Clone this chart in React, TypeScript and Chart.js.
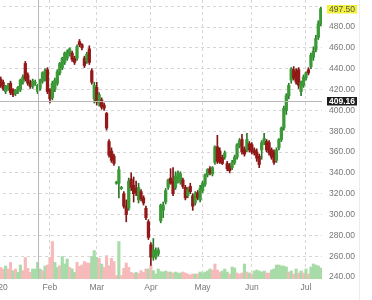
import React, { useEffect, useRef } from 'react';
import { Chart, registerables } from 'chart.js';

Chart.register(...registerables);

// ---- data ----
const monthLabels = ['2020', 'Feb', 'Mar', 'Apr', 'May', 'Jun', 'Jul'];
const tradingDaysPerMonth = [21, 19, 22, 21, 20, 22, 7];

const opens = [
  431, 430, 427, 418, 421, 426, 420, 416, 418, 420, 427, 445, 434, 427, 423, 426, 418, 421, 428, 430, 439,
  420, 412, 420, 426, 436, 441, 446, 450, 454, 455, 450, 450, 466, 463, 450, 447, 459, 438, 411,
  422, 407, 410, 405, 397, 370, 361, 356, 330, 330, 325, 320, 308, 306, 334, 328, 325, 314, 322, 316, 306, 293,
  271, 259, 259, 262, 294, 304, 312, 326, 335, 332, 326, 334, 331, 333, 326, 318, 327, 318, 311, 321, 314,
  323, 329, 338, 344, 339, 350, 365, 361, 355, 355, 349, 347, 345, 350, 355, 366, 372, 363, 362, 368,
  367, 362, 360, 356, 362, 369, 370, 369, 362, 360, 352, 364, 372, 383, 400, 414, 429, 439, 437, 439, 418, 424,
  431, 439, 442, 451, 458, 470, 483,
];
const highs = [
  433, 432, 429, 424, 426, 428, 421, 420, 423, 430, 434, 447, 436, 429, 430, 429, 425, 430, 437, 440, 441,
  421, 428, 431, 439, 446, 451, 456, 458, 460, 457, 452, 463, 468, 464, 452, 456, 462, 440, 427,
  427, 417, 412, 407, 398, 372, 364, 358, 332, 346, 327, 322, 314, 335, 340, 336, 332, 330, 324, 318, 308, 295,
  273, 277, 268, 268, 310, 312, 325, 334, 344, 345, 341, 342, 341, 335, 328, 326, 330, 320, 322, 323, 328,
  332, 339, 344, 346, 346, 366, 376, 364, 357, 361, 351, 349, 352, 357, 368, 373, 377, 365, 378, 370,
  369, 364, 363, 358, 371, 378, 372, 371, 364, 362, 364, 373, 384, 404, 416, 426, 441, 442, 440, 441, 428, 434,
  437, 441, 455, 461, 472, 486, 499,
];
const lows = [
  423, 422, 419, 416, 419, 415, 413, 414, 416, 418, 425, 428, 424, 421, 421, 424, 416, 419, 426, 428, 416,
  407, 410, 418, 424, 434, 439, 444, 448, 452, 447, 444, 448, 461, 458, 441, 445, 444, 425, 407,
  405, 404, 401, 400, 381, 355, 350, 347, 329, 316, 324, 306, 293, 304, 323, 312, 318, 311, 313, 309, 295, 276,
  251, 256, 257, 260, 292, 297, 310, 324, 329, 318, 324, 330, 329, 325, 314, 316, 320, 304, 309, 314, 312,
  321, 327, 336, 338, 337, 348, 349, 349, 348, 353, 342, 340, 343, 348, 353, 364, 358, 356, 360, 360,
  358, 357, 351, 345, 353, 367, 360, 357, 353, 348, 350, 362, 370, 381, 396, 411, 426, 429, 425, 421, 414, 422,
  429, 434, 440, 448, 456, 468, 481,
];
const closes = [
  425, 424, 421, 423, 424, 417, 415, 419, 422, 429, 432, 430, 426, 423, 428, 427, 424, 429, 436, 438, 418,
  411, 426, 429, 437, 445, 450, 455, 456, 459, 449, 446, 461, 463, 460, 443, 454, 446, 427, 424,
  408, 415, 403, 402, 383, 357, 352, 349, 331, 343, 326, 308, 300, 332, 326, 320, 321, 326, 315, 311, 297, 278,
  259, 266, 265, 266, 309, 309, 323, 333, 330, 320, 337, 340, 339, 327, 316, 324, 322, 308, 320, 316, 325,
  330, 338, 343, 340, 345, 365, 351, 350, 349, 359, 344, 342, 350, 355, 367, 371, 360, 358, 372, 362,
  360, 359, 354, 348, 369, 373, 362, 359, 355, 350, 362, 372, 383, 402, 414, 424, 440, 431, 427, 424, 427, 432,
  436, 436, 453, 457, 469, 483, 497.5,
];
// volume in millions of shares
const volumes = [
  6.0, 5.8, 5.0, 6.5, 5.0, 8.3, 4.2, 5.0, 3.3, 7.0, 4.2, 10.7, 5.3, 3.3, 5.0, 5.0, 8.3, 5.0, 4.2, 6.5, 7.0,
  10.8, 18.7, 8.3, 5.8, 6.7, 11.2, 7.5, 10.0, 5.8, 5.0, 3.3, 8.3, 6.3, 7.0, 8.7, 8.0, 8.0, 11.3, 14.2,
  10.8, 10.3, 7.5, 5.8, 11.7, 6.7, 10.3, 8.7, 1.7, 18.7, 1.7, 5.3, 8.0, 5.8, 3.3, 2.8, 3.3, 2.8, 4.2, 3.3, 5.0, 5.0,
  6.7, 4.2, 2.5, 5.0, 3.7, 3.5, 4.0, 3.5, 3.5, 3.0, 3.5, 3.0, 3.0, 3.5, 3.0, 2.5, 2.0, 2.5, 2.5, 2.5, 3.5,
  3.0, 3.5, 4.0, 5.0, 4.5, 7.5, 4.5, 3.5, 4.0, 5.0, 3.5, 2.5, 6.0, 5.5, 3.0, 2.5, 3.0, 7.5, 3.5, 3.0,
  2.5, 4.0, 4.5, 4.0, 3.5, 4.0, 3.0, 3.0, 4.5, 5.0, 7.0, 7.0, 6.5, 6.5, 6.0, 3.5, 4.0, 2.5, 5.0, 3.0, 4.0, 3.0,
  5.0, 2.5, 6.0, 7.5, 7.0, 6.5, 5.5,
];
// 1 = up day (green volume), 0 = down day (red volume)
const volumeUp = [
  0, 0, 0, 1, 0, 0, 1, 0, 1, 1, 0, 0, 0, 0, 1, 1, 1, 1, 0, 1, 0,
  0, 0, 1, 1, 0, 1, 1, 1, 0, 1, 1, 0, 0, 0, 0, 0, 0, 1, 1,
  1, 0, 1, 0, 0, 0, 0, 0, 0, 1, 0, 0, 0, 0, 0, 0, 1, 0, 0, 0, 0, 1,
  0, 1, 1, 1, 1, 1, 1, 0, 1, 0, 1, 1, 1, 0, 0, 0, 0, 0, 1, 0, 1,
  1, 1, 1, 1, 0, 0, 0, 0, 1, 1, 1, 0, 1, 1, 0, 0, 0, 1, 0, 1,
  0, 1, 1, 1, 1, 1, 0, 0, 1, 1, 1, 1, 1, 1, 1, 0, 1, 0, 1, 0, 1, 0,
  1, 0, 1, 1, 1, 1, 1,
];
const priceTicks = [240, 260, 280, 300, 320, 340, 360, 380, 400, 420, 440, 460, 480, 500];
const lastPrice = 497.5;
const crosshairIndex = 16.3;
const crosshairPrice = 409.16;

// ---- styling ----
const FONT = '"Liberation Sans", Arial, sans-serif';
const GRID = '#d6d6d6';
const GREEN = '#3a9a36';
const GREEN_DARK = '#287a26';
const RED = '#941818';
const RED_DARK = '#7e1414';
const VOL_UP = '#a7dba7';
const VOL_DOWN = '#f6baba';

const labels: string[] = [];
const tickText: string[] = [];
monthLabels.forEach((m, mi) => {
  for (let d = 0; d < tradingDaysPerMonth[mi]; d++) {
    labels.push(`${mi}-${d}`);
    tickText.push(d === 0 ? m : '');
  }
});

const overlayPlugin = {
  id: 'overlay',
  afterDatasetsDraw(chart: any) {
    const { ctx, chartArea: a, scales } = chart;
    const cx = Math.round(scales.x.getPixelForValue(crosshairIndex)) + 0.5;
    const cy = Math.round(scales.y.getPixelForValue(crosshairPrice)) + 0.5;
    ctx.save();
    ctx.strokeStyle = '#b8b8b8';
    ctx.lineWidth = 1;
    ctx.beginPath();
    ctx.moveTo(cx, a.top);
    ctx.lineTo(cx, a.bottom);
    ctx.moveTo(a.left, cy);
    ctx.lineTo(a.right, cy);
    ctx.stroke();
    const drawTag = (price: number, bg: string, fg: string, bold: boolean) => {
      const y = scales.y.getPixelForValue(price);
      const x0 = a.right + 5;
      const w = 30;
      const h = 8.5;
      ctx.fillStyle = bg;
      ctx.fillRect(x0, Math.round(y - h / 2), w, h);
      ctx.fillStyle = fg;
      ctx.font = `${bold ? 'bold ' : ''}8.5px ${FONT}`;
      ctx.textAlign = 'center';
      ctx.textBaseline = 'middle';
      ctx.fillText(price.toFixed(2), x0 + w / 2, y + 0.5);
    };
    drawTag(lastPrice, '#f2f23c', '#555', false);
    drawTag(crosshairPrice, '#1c1c1c', '#ffffff', true);
    ctx.restore();
  },
};

export default function App() {
  const ref = useRef<HTMLCanvasElement | null>(null);

  useEffect(() => {
    if (!ref.current) return;
    const up = closes.map((c, i) => c >= opens[i]);
    const chart = new Chart(ref.current, {
      type: 'bar',
      data: {
        labels,
        datasets: [
          {
            label: 'body',
            data: opens.map((o, i) => [o, closes[i]]) as any,
            backgroundColor: up.map((u) => (u ? GREEN : RED)),
            barThickness: 2.6,
            minBarLength: 1,
            grouped: false,
            order: 0,
            yAxisID: 'y',
            borderWidth: 0,
          },
          {
            label: 'wick',
            data: lows.map((l, i) => [l, highs[i]]) as any,
            backgroundColor: up.map((u) => (u ? GREEN_DARK : RED_DARK)),
            barThickness: 1,
            grouped: false,
            order: 1,
            yAxisID: 'y',
            borderWidth: 0,
          },
          {
            label: 'volume',
            data: volumes,
            backgroundColor: volumeUp.map((u) => (u ? VOL_UP : VOL_DOWN)),
            barPercentage: 1,
            categoryPercentage: 1,
            grouped: false,
            order: 2,
            yAxisID: 'vol',
            borderWidth: 0,
          },
        ],
      },
      options: {
        animation: false,
        responsive: false,
        maintainAspectRatio: false,
        devicePixelRatio: 1,
        events: [],
        layout: { padding: 0 },
        plugins: { legend: { display: false }, tooltip: { enabled: false } },
        scales: {
          x: {
            type: 'category',
            offset: true,
            grid: {
              offset: false,
              drawTicks: false,
              color: (c: any) => (tickText[c.index] ? GRID : 'rgba(0,0,0,0)'),
            },
            border: { display: false, dash: [3, 3] },
            ticks: {
              autoSkip: false,
              maxRotation: 0,
              minRotation: 0,
              padding: 4,
              color: '#777',
              font: { family: FONT, size: 8.5 },
              callback: (_v: any, i: number) => tickText[i],
            },
            afterFit: (s: any) => {
              s.height = 21;
              s.paddingLeft = 0;
              s.paddingRight = 0;
            },
          },
          y: {
            position: 'right',
            min: 238.08,
            max: 505.92,
            afterBuildTicks: (s: any) => {
              s.ticks = priceTicks.map((v) => ({ value: v }));
            },
            grid: { color: GRID, drawTicks: false },
            border: { display: false, dash: [3, 3] },
            ticks: {
              padding: 7,
              color: '#777',
              font: { family: FONT, size: 8.5 },
              callback: (v: any) => (Number(v) <= 480 ? Number(v).toFixed(2) : ''),
            },
            afterFit: (s: any) => {
              s.width = 37;
              s.paddingTop = 0;
              s.paddingBottom = 0;
            },
          },
          vol: {
            display: false,
            min: 0,
            max: 139.5,
          },
        },
      } as any,
      plugins: [overlayPlugin],
    });
    return () => chart.destroy();
  }, []);

  return (
    <div
      style={{
        position: 'fixed',
        left: 0,
        top: 0,
        width: 359,
        height: 300,
        overflow: 'hidden',
        borderRight: '1px solid #ececec',
        background: '#fff',
      }}
    >
      <canvas
        ref={ref}
        width={362}
        height={300}
        style={{ position: 'absolute', left: -3, top: 0, width: 362, height: 300 }}
      />
    </div>
  );
}
